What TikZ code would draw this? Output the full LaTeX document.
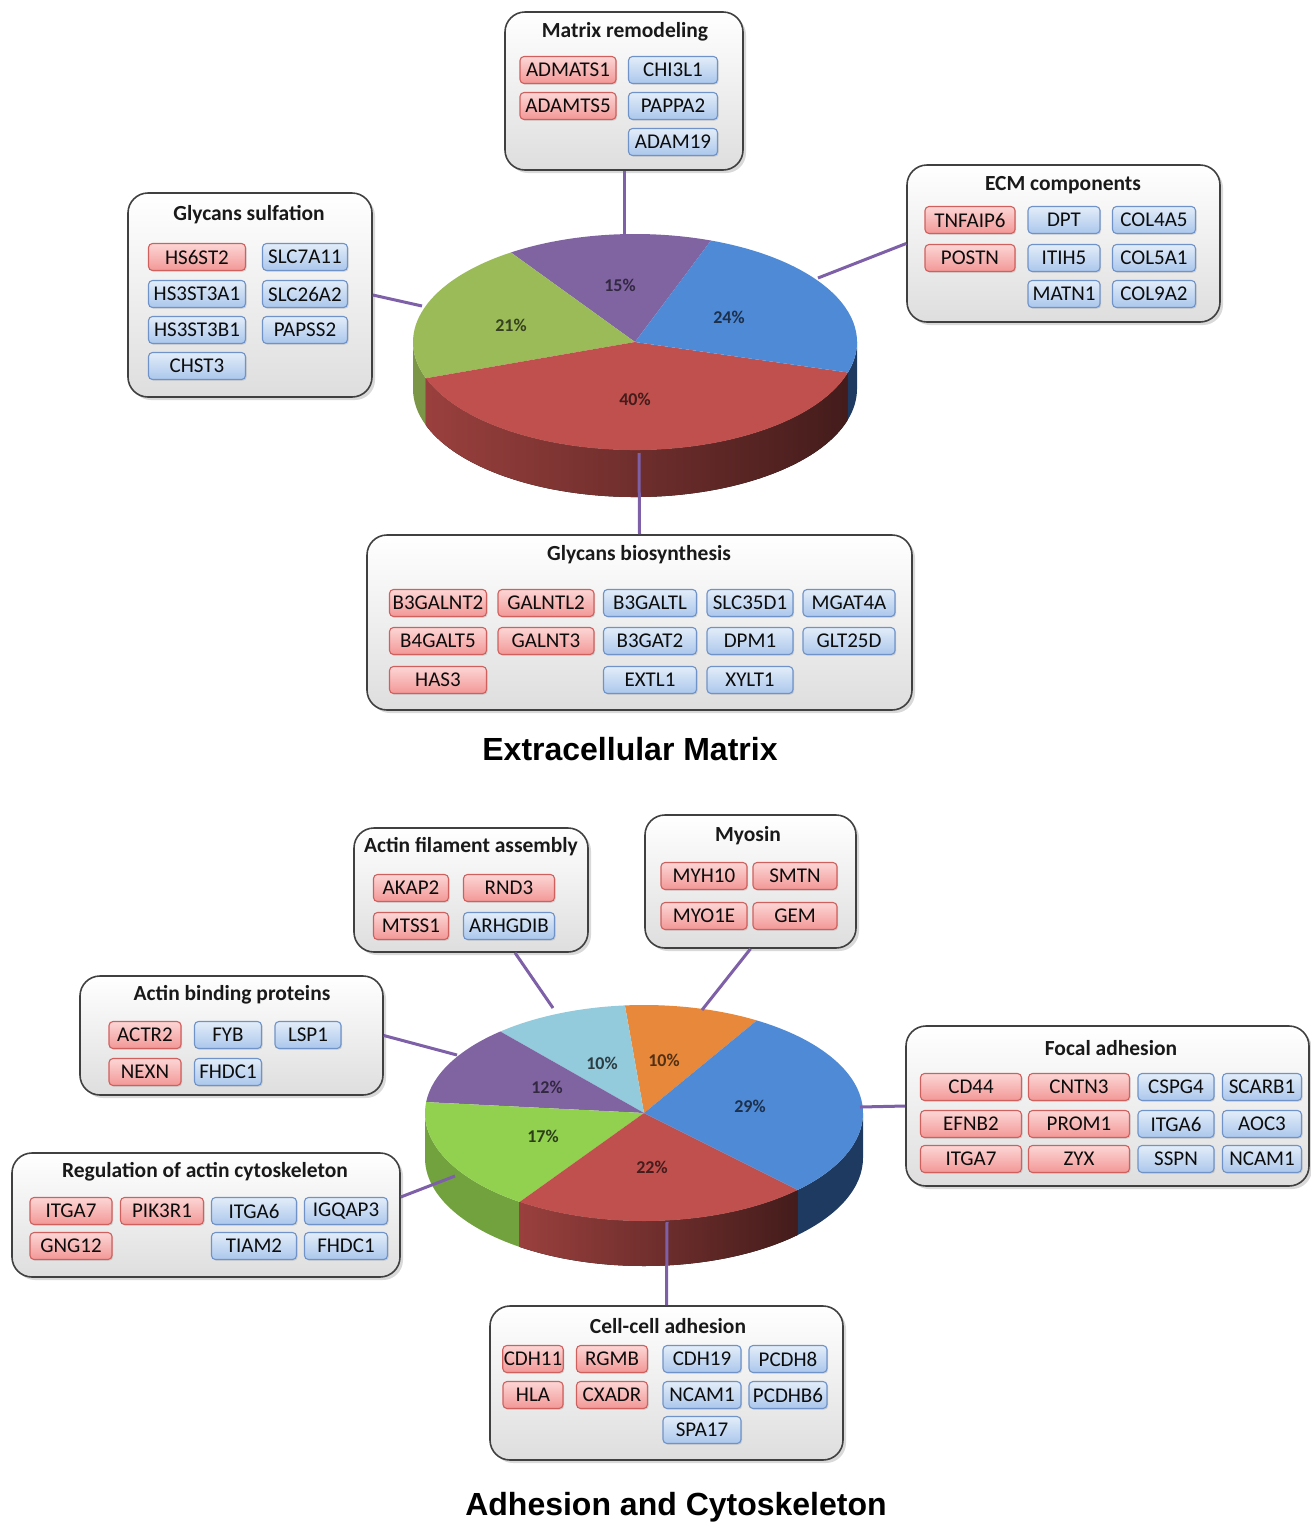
\documentclass[tikz,border=0pt]{standalone}
\usepackage{fontspec}
\setmainfont{Carlito}
\newfontfamily\headfont{Liberation Sans}
\usetikzlibrary{shadows}
\definecolor{linkpurple}{HTML}{7D60A8}
\definecolor{redline}{HTML}{D0605D}
\definecolor{redtop}{HTML}{FCD6D5}
\definecolor{redbot}{HTML}{F29896}
\definecolor{blueline}{HTML}{6F93C8}
\definecolor{bluetop}{HTML}{E3EDF9}
\definecolor{bluebot}{HTML}{ABC7EC}
\definecolor{pviolet}{HTML}{8064A2}
\definecolor{pgreen}{HTML}{9BBB59}
\definecolor{pred}{HTML}{C0504D}
\definecolor{pblue}{HTML}{4F8AD6}
\definecolor{porange}{HTML}{E8883A}
\definecolor{pcyan}{HTML}{93CADC}
\definecolor{plime}{HTML}{92D050}
\definecolor{pnavy}{HTML}{1F3A60}
\newcommand{\pieslice}[7]{\fill[#1] (#2,#3) -- ++({#4*cos(#6)},{#5*sin(#6)}) arc[start angle=#6,end angle=#7,x radius=#4,y radius=#5] -- cycle;}
\newcommand{\pieside}[8]{\fill[#1] ({#2+#4*cos(#6)},{#3+#5*sin(#6)}) arc[start angle=#6,end angle=#7,x radius=#4,y radius=#5] -- ++(0,-#8) arc[start angle=#7,end angle=#6,x radius=#4,y radius=#5] -- cycle;}
\begin{document}
\begin{tikzpicture}[x=1pt,y=1pt]
	\useasboundingbox (0,0) rectangle (1311,-1524);
	\tikzstyle{every node}+=[inner sep=1pt]
	\tikzstyle{group}=[draw=black!75, line width=1.6pt, rounded corners=20pt, inner sep=0pt, top color=white, bottom color=black!13, drop shadow={shadow xshift=3pt,shadow yshift=-3pt,opacity=0.3}]
	\tikzstyle{grouptitle}=[font=\fontsize{21.5}{24}\selectfont\bfseries, text=black!90]
	\tikzstyle{gene}=[rounded corners=4pt, line width=1.1pt, minimum height=27pt, font=\fontsize{21}{24}\selectfont, text=black!95, drop shadow={shadow xshift=1.2pt,shadow yshift=-1.2pt,opacity=0.25}]
	\tikzstyle{pct}=[font=\fontsize{18}{20}\selectfont\bfseries]
	\tikzstyle{link}=[draw=linkpurple, line width=3pt]
	\tikzstyle{bigtitle}=[font=\headfont\fontsize{32}{38}\selectfont\bfseries]
	\tikzset{redgene/.style={gene, draw=redline, top color=redtop, bottom color=redbot, minimum width=#1},
		bluegene/.style={gene, draw=blueline, top color=bluetop, bottom color=bluebot, minimum width=#1}}
	\pieside{pgreen!80!black}{635}{-342}{222}{108}{180}{199.6}{47}
	\pieside{left color=pred!80!black, right color=pred!35!black}{635}{-342}{222}{108}{199.6}{343.6}{47}
	\pieside{pnavy}{635}{-342}{222}{108}{343.6}{360}{47}
	\pieslice{pviolet}{635}{-342}{222}{108}{70}{124}
	\pieslice{pgreen}{635}{-342}{222}{108}{124}{199.6}
	\pieslice{pred}{635}{-342}{222}{108}{199.6}{343.6}
	\pieslice{pblue}{635}{-342}{222}{108}{343.6}{430}
	\node[pct, text=pviolet!40!black] (ecm15) at (620,-285) {15\%};
	\node[pct, text=pblue!35!black] (ecm24) at (729,-317) {24\%};
	\node[pct, text=pgreen!35!black] (ecm21) at (511,-325) {21\%};
	\node[pct, text=pred!35!black] (ecm40) at (635,-399) {40\%};
	\coordinate (pienorth) at (624,-236);
	\coordinate (piewest) at (422,-306);
	\coordinate (pieeast) at (818,-278);
	\coordinate (piesouth) at (639,-453);
	\pieside{plime!78!black}{644}{-1113}{219}{108}{180}{235.4}{45}
	\pieside{left color=pred!80!black, right color=pred!35!black}{644}{-1113}{219}{108}{235.4}{314.6}{45}
	\pieside{pnavy}{644}{-1113}{219}{108}{314.6}{360}{45}
	\pieslice{porange}{644}{-1113}{219}{108}{59}{95}
	\pieslice{pcyan}{644}{-1113}{219}{108}{95}{131}
	\pieslice{pviolet}{644}{-1113}{219}{108}{131}{174.2}
	\pieslice{plime}{644}{-1113}{219}{108}{174.2}{235.4}
	\pieslice{pred}{644}{-1113}{219}{108}{235.4}{314.6}
	\pieslice{pblue}{644}{-1113}{219}{108}{314.6}{419}
	\node[pct, text=pcyan!30!black] (adh10a) at (602,-1063) {10\%};
	\node[pct, text=porange!35!black] (adh10b) at (664,-1060) {10\%};
	\node[pct, text=pviolet!40!black] (adh12) at (547,-1087) {12\%};
	\node[pct, text=plime!30!black] (adh17) at (543,-1136) {17\%};
	\node[pct, text=pred!35!black] (adh22) at (652,-1167) {22\%};
	\node[pct, text=pblue!35!black] (adh29) at (750,-1106) {29\%};
	\coordinate (pieafa) at (553,-1008);
	\coordinate (piemyo) at (702,-1010);
	\coordinate (pieabp) at (457,-1055);
	\coordinate (piefa) at (860,-1107);
	\coordinate (piereg) at (455,-1176);
	\coordinate (piecca) at (667,-1222);
	\draw (624,-91) node[group, minimum width=238pt, minimum height=158pt] (mr) {};
	\draw (625,-32) node[grouptitle] (mrtitle) {Matrix remodeling};
	\draw (568,-70) node[redgene=96pt] (mr-admats1) {ADMATS1};
	\draw (568,-106) node[redgene=96pt] (mr-adamts5) {ADAMTS5};
	\draw (673,-70) node[bluegene=89pt] (mr-chi3l1) {CHI3L1};
	\draw (673,-106) node[bluegene=89pt] (mr-pappa2) {PAPPA2};
	\draw (673,-142) node[bluegene=89pt] (mr-adam19) {ADAM19};
	\draw (250,-295) node[group, minimum width=244pt, minimum height=204pt] (gs) {};
	\draw (249,-215) node[grouptitle] (gstitle) {Glycans sulfation};
	\draw (197,-257) node[redgene=97pt] (gs-hs6st2) {HS6ST2};
	\draw (197,-294) node[bluegene=97pt] (gs-hs3st3a1) {HS3ST3A1};
	\draw (197,-330) node[bluegene=97pt] (gs-hs3st3b1) {HS3ST3B1};
	\draw (197,-366) node[bluegene=97pt] (gs-chst3) {CHST3};
	\draw (305,-257) node[bluegene=85pt] (gs-slc7a11) {SLC7A11};
	\draw (305,-294) node[bluegene=85pt] (gs-slc26a2) {SLC26A2};
	\draw (305,-330) node[bluegene=85pt] (gs-papss2) {PAPSS2};
	\draw (1063.5,-243.5) node[group, minimum width=313pt, minimum height=157pt] (ecm) {};
	\draw (1063,-185) node[grouptitle] (ecmtitle) {ECM components};
	\draw (970,-220) node[redgene=90pt] (ecm-tnfaip6) {TNFAIP6};
	\draw (970,-258) node[redgene=90pt] (ecm-postn) {POSTN};
	\draw (1064,-220) node[bluegene=72pt] (ecm-dpt) {DPT};
	\draw (1064,-258) node[bluegene=72pt] (ecm-itih5) {ITIH5};
	\draw (1064,-294) node[bluegene=72pt] (ecm-matn1) {MATN1};
	\draw (1154,-220) node[bluegene=83pt] (ecm-col4a5) {COL4A5};
	\draw (1154,-258) node[bluegene=83pt] (ecm-col5a1) {COL5A1};
	\draw (1154,-294) node[bluegene=83pt] (ecm-col9a2) {COL9A2};
	\draw (639.5,-622.5) node[group, minimum width=545pt, minimum height=175pt] (gb) {};
	\draw (639,-555) node[grouptitle] (gbtitle) {Glycans biosynthesis};
	\draw (438,-603) node[redgene=97pt] (gb-b3galnt2) {B3GALNT2};
	\draw (438,-641) node[redgene=97pt] (gb-b4galt5) {B4GALT5};
	\draw (438,-680) node[redgene=97pt] (gb-has3) {HAS3};
	\draw (546,-603) node[redgene=96pt] (gb-galntl2) {GALNTL2};
	\draw (546,-641) node[redgene=96pt] (gb-galnt3) {GALNT3};
	\draw (650,-603) node[bluegene=93pt] (gb-b3galtl) {B3GALTL};
	\draw (650,-641) node[bluegene=93pt] (gb-b3gat2) {B3GAT2};
	\draw (650,-680) node[bluegene=93pt] (gb-extl1) {EXTL1};
	\draw (750,-603) node[bluegene=86pt] (gb-slc35d1) {SLC35D1};
	\draw (750,-641) node[bluegene=86pt] (gb-dpm1) {DPM1};
	\draw (750,-680) node[bluegene=86pt] (gb-xylt1) {XYLT1};
	\draw (849,-603) node[bluegene=92pt] (gb-mgat4a) {MGAT4A};
	\draw (849,-641) node[bluegene=92pt] (gb-glt25d) {GLT25D};
	\draw (630,-749) node[bigtitle] (ecmlabel) {Extracellular Matrix};
	\draw (471,-890) node[group, minimum width=234pt, minimum height=124pt] (afa) {};
	\draw (471,-847) node[grouptitle] (afatitle) {Actin filament assembly};
	\draw (411,-888) node[redgene=75pt] (afa-akap2) {AKAP2};
	\draw (411,-926) node[redgene=75pt] (afa-mtss1) {MTSS1};
	\draw (509,-888) node[redgene=91pt] (afa-rnd3) {RND3};
	\draw (509,-926) node[bluegene=91pt] (afa-arhgdib) {ARHGDIB};
	\draw (750.5,-881.5) node[group, minimum width=211pt, minimum height=133pt] (myo) {};
	\draw (748,-836) node[grouptitle] (myotitle) {Myosin};
	\draw (704,-876) node[redgene=86pt] (myo-myh10) {MYH10};
	\draw (704,-916) node[redgene=86pt] (myo-myo1e) {MYO1E};
	\draw (795,-876) node[redgene=84pt] (myo-smtn) {SMTN};
	\draw (795,-916) node[redgene=84pt] (myo-gem) {GEM};
	\draw (231.5,-1035.5) node[group, minimum width=303pt, minimum height=119pt] (abp) {};
	\draw (232,-995) node[grouptitle] (abptitle) {Actin binding proteins};
	\draw (145,-1035) node[redgene=72pt] (abp-actr2) {ACTR2};
	\draw (145,-1072) node[redgene=72pt] (abp-nexn) {NEXN};
	\draw (228,-1035) node[bluegene=67pt] (abp-fyb) {FYB};
	\draw (228,-1072) node[bluegene=67pt] (abp-fhdc1) {FHDC1};
	\draw (308,-1035) node[bluegene=66pt] (abp-lsp1) {LSP1};
	\draw (1107.5,-1106) node[group, minimum width=403pt, minimum height=160pt] (fa) {};
	\draw (1111,-1048) node[grouptitle] (fatitle) {Focal adhesion};
	\draw (971,-1087) node[redgene=101pt] (fa-cd44) {CD44};
	\draw (971,-1124) node[redgene=101pt] (fa-efnb2) {EFNB2};
	\draw (971,-1159) node[redgene=101pt] (fa-itga7) {ITGA7};
	\draw (1079,-1087) node[redgene=101pt] (fa-cntn3) {CNTN3};
	\draw (1079,-1124) node[redgene=101pt] (fa-prom1) {PROM1};
	\draw (1079,-1159) node[redgene=101pt] (fa-zyx) {ZYX};
	\draw (1176,-1087) node[bluegene=76pt] (fa-cspg4) {CSPG4};
	\draw (1176,-1124) node[bluegene=76pt] (fa-itga6) {ITGA6};
	\draw (1176,-1159) node[bluegene=76pt] (fa-sspn) {SSPN};
	\draw (1262,-1087) node[bluegene=79pt] (fa-scarb1) {SCARB1};
	\draw (1262,-1124) node[bluegene=79pt] (fa-aoc3) {AOC3};
	\draw (1262,-1159) node[bluegene=79pt] (fa-ncam1) {NCAM1};
	\draw (206,-1215) node[group, minimum width=388pt, minimum height=124pt] (reg) {};
	\draw (205,-1172) node[grouptitle] (regtitle) {Regulation of actin cytoskeleton};
	\draw (71,-1211) node[redgene=82pt] (reg-itga7) {ITGA7};
	\draw (71,-1246) node[redgene=82pt] (reg-gng12) {GNG12};
	\draw (162,-1211) node[redgene=83pt] (reg-pik3r1) {PIK3R1};
	\draw (254,-1211) node[bluegene=85pt] (reg-itga6) {ITGA6};
	\draw (254,-1246) node[bluegene=85pt] (reg-tiam2) {TIAM2};
	\draw (346,-1211) node[bluegene=83pt] (reg-igqap3) {IGQAP3};
	\draw (346,-1246) node[bluegene=83pt] (reg-fhdc1) {FHDC1};
	\draw (666.5,-1383) node[group, minimum width=353pt, minimum height=154pt] (cca) {};
	\draw (668,-1326) node[grouptitle] (ccatitle) {Cell-cell adhesion};
	\draw (533,-1359) node[redgene=60pt] (cca-cdh11) {CDH11};
	\draw (533,-1395) node[redgene=60pt] (cca-hla) {HLA};
	\draw (612,-1359) node[redgene=71pt] (cca-rgmb) {RGMB};
	\draw (612,-1395) node[redgene=71pt] (cca-cxadr) {CXADR};
	\draw (702,-1359) node[bluegene=78pt] (cca-cdh19) {CDH19};
	\draw (702,-1395) node[bluegene=78pt] (cca-ncam1) {NCAM1};
	\draw (702,-1430) node[bluegene=78pt] (cca-spa17) {SPA17};
	\draw (788,-1359) node[bluegene=78pt] (cca-pcdh8) {PCDH8};
	\draw (788,-1395) node[bluegene=78pt] (cca-pcdhb6) {PCDHB6};
	\draw (676,-1507) node[bigtitle] (adhlabel) {Adhesion and Cytoskeleton};
	\draw[link] (mr.south) -- (pienorth);
	\draw[link] (gs.east) -- (piewest);
	\draw[link] (ecm.west) -- (pieeast);
	\draw[link] (gb.north) -- (piesouth);
	\draw[link] ([xshift=44pt]afa.south) -- (pieafa);
	\draw[link] (myo.south) -- (piemyo);
	\draw[link] (abp.east) -- (pieabp);
	\draw[link] (fa.west) -- (piefa);
	\draw[link] ([yshift=18pt]reg.east) -- (piereg);
	\draw[link] (cca.north) -- (piecca);
\end{tikzpicture}
\end{document}
